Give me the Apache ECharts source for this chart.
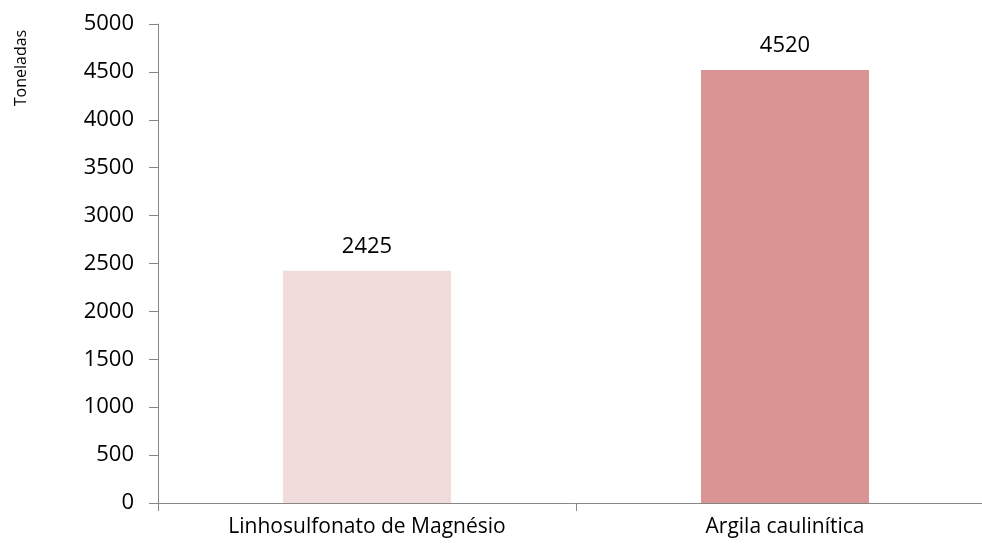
<!DOCTYPE html>
<html>
<head>
<meta charset="utf-8">
<script src="https://cdn.jsdelivr.net/npm/echarts@6/dist/echarts.min.js"></script>
<style>
  html, body { margin: 0; padding: 0; background: #fff; }
  #chart { width: 982px; height: 552px; }
</style>
</head>
<body>
<div id="chart"></div>
<script>
const categories = ['Linhosulfonato de Magnésio', 'Argila caulinítica']
const values = [2425, 4520]
const barColors = ['#F2DCDB', '#D99594']
const yTicks = [0, 500, 1000, 1500, 2000, 2500, 3000, 3500, 4000, 4500, 5000]

const font = 'Open Sans'
const chart = echarts.init(document.getElementById('chart'))

const options = {
  animation: false,
  grid: {
    left: 158,
    right: -12,
    top: 24,
    bottom: 49,
    outerBoundsMode: 'none'
  },
  graphic: [
    {
      type: 'text',
      x: 21,
      y: 68,
      rotation: Math.PI / 2,
      style: {
        text: 'Toneladas',
        font: '16px "' + font + '"',
        fill: '#000',
        align: 'center',
        verticalAlign: 'middle'
      }
    }
  ],
  xAxis: {
    type: 'category',
    data: categories,
    axisLine: { lineStyle: { color: '#868686', width: 1 } },
    axisTick: { show: true, length: 8, lineStyle: { color: '#868686', width: 1 } },
    axisLabel: { color: '#000', fontSize: 21, fontFamily: font, margin: 14 }
  },
  yAxis: {
    type: 'value',
    min: yTicks[0],
    max: yTicks[yTicks.length - 1],
    interval: 500,
    splitLine: { show: false },
    axisLine: { show: true, lineStyle: { color: '#868686', width: 1 } },
    axisTick: { show: true, length: 9, lineStyle: { color: '#868686' } },
    axisLabel: {
      color: '#000',
      fontSize: 22,
      fontFamily: font,
      margin: 24,
      formatter: (v) => String(v)
    }
  },
  series: [
    {
      type: 'bar',
      barWidth: 168,
      data: values.map((v, i) => ({ value: v, itemStyle: { color: barColors[i] } })),
      label: {
        show: true,
        position: 'top',
        distance: 13,
        color: '#000',
        fontSize: 22,
        fontFamily: font
      }
    }
  ]
}
chart.setOption(options)
</script>
</body>
</html>
